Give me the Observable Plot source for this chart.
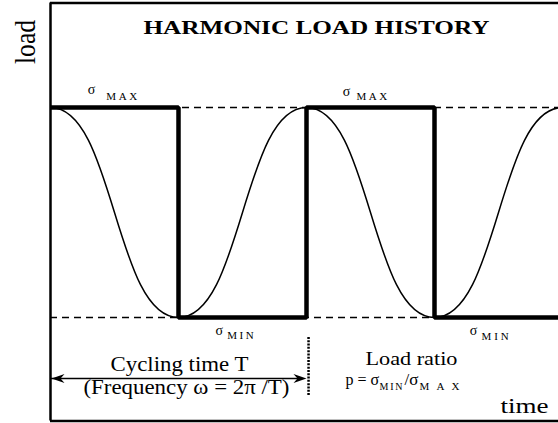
<!DOCTYPE html>
<html><head><meta charset="utf-8">
<script src="https://cdn.jsdelivr.net/npm/d3@7"></script>
<script src="https://cdn.jsdelivr.net/npm/@observablehq/plot@0.6"></script>
<style>html,body{margin:0;padding:0;background:#fff;} svg{display:block;} svg text{font-family:"Liberation Serif","Times New Roman",serif !important;}</style>
</head><body><div id="chart"></div>
<script>
// ---- data (time in units of the period T, load normalised: σmax = 1, σmin = -1)
const harmonicTimes = [0, 0.5, 1, 1.5, 2];
const harmonicLoads = [1, -1, 1, -1, 1];
const squareTimes = [0, 0.5, 1, 1.5, 2];
const squareLoads = [1, -1, 1, -1, -1];
const levelLoads = [1, -1];
const cycleSpan = [0, 1];

const titleText = "HARMONIC LOAD HISTORY";
const yLabel = "load";
const xLabel = "time";
const sigma = "σ";
const maxSub = "MAX";
const minSub = "MIN";
const cycleText = "Cycling time T";
const freqText = "(Frequency ω = 2π /T)";
const ratioText = "Load ratio";
const ratioLead = "p = σ";
const ratioMid = "/σ";

const harmonic = harmonicTimes.map((t, i) => ({t, load: harmonicLoads[i]}));
const square = squareTimes.map((t, i) => ({t, load: squareLoads[i]}));

const xMax = 508 / 256;
const font = "Liberation Serif";
const fits = [];
function label(text, x, y, opts, fit) {
  fits.push(fit);
  return Plot.text([text], {x, y, text: d => d, fill: "black", fontFamily: font, lineAnchor: "bottom", ...opts});
}

const arrowHead = {draw(ctx) { ctx.moveTo(0, 0); ctx.lineTo(-13, -4.5); ctx.lineTo(-9, 0); ctx.lineTo(-13, 4.5); ctx.closePath(); }};
const arrowY = -1.581;

const chart = Plot.plot({
  width: 558, height: 423,
  marginLeft: 50, marginRight: 0, marginTop: 0, marginBottom: 0,
  x: {domain: [0, xMax], axis: null},
  y: {domain: [-2.0095, 2.019], axis: null},
  style: {background: "white"},
  marks: [
    Plot.ruleY(levelLoads, {x1: 0, x2: xMax, stroke: "black", strokeWidth: 1.5, strokeDasharray: "7,5"}),
    Plot.line(harmonic, {x: "t", y: "load", curve: "bump-x", stroke: "black", strokeWidth: 1.5, clip: true}),
    Plot.line(square, {x: "t", y: "load", curve: "step-after", stroke: "black", strokeWidth: 4.5, strokeLinejoin: "miter", strokeLinecap: "butt", clip: true}),
    // frame
    Plot.ruleX([0], {y1: -1.986, y2: 1.995, stroke: "black", strokeWidth: 2.5}),
    Plot.ruleY([1.995, -1.986], {x1: 0, x2: xMax, stroke: "black", strokeWidth: 2.5}),
    // cycle arrow
    Plot.ruleY([arrowY], {x1: cycleSpan[0], x2: cycleSpan[1] - 0.02, stroke: "black", strokeWidth: 1.5}),
    Plot.dot([cycleSpan[1]], {x: d => d, y: arrowY, symbol: arrowHead, fill: "black", stroke: "none"}),
    Plot.dot([cycleSpan[0]], {x: d => d + 0.004, y: arrowY, symbol: arrowHead, rotate: 180, fill: "black", stroke: "none"}),
    Plot.ruleX([1.008], {y1: -1.19, y2: -1.743, stroke: "black", strokeWidth: 2.5, strokeDasharray: "2,1.3"}),
    // texts
    label(titleText, 1.039, 1.701, {fontSize: 19, fontWeight: "bold", textAnchor: "middle"}, [346, "spacingAndGlyphs"]),
    label(yLabel, -0.0586, 1.624, {fontSize: 30, rotate: -90, textAnchor: "middle"}, [44, "spacingAndGlyphs"]),
    label(sigma, 0.1457, 1.124, {fontSize: 14, textAnchor: "start"}, null),
    label(maxSub, 0.2176, 1.076, {fontSize: 11, textAnchor: "start"}, [31, "spacing"]),
    label(sigma, 1.1418, 1.114, {fontSize: 14, textAnchor: "start"}, null),
    label(maxSub, 1.1953, 1.067, {fontSize: 11, textAnchor: "start"}, [30.7, "spacing"]),
    label(sigma, 0.6445, -1.1667, {fontSize: 14, textAnchor: "start"}, null),
    label(minSub, 0.6902, -1.2095, {fontSize: 11, textAnchor: "start"}, [26.6, "spacing"]),
    label(sigma, 1.6379, -1.1714, {fontSize: 14, textAnchor: "start"}, null),
    label(minSub, 1.6836, -1.219, {fontSize: 11, textAnchor: "start"}, [27.3, "spacing"]),
    label(cycleText, 0.5039, -1.514, {fontSize: 20, textAnchor: "middle"}, [138, "spacingAndGlyphs"]),
    label(freqText, 0.531, -1.724, {fontSize: 20, textAnchor: "middle"}, [206, "spacingAndGlyphs"]),
    label(ratioText, 1.410, -1.457, {fontSize: 19, textAnchor: "middle"}, [92, "spacingAndGlyphs"]),
    label(ratioLead, 1.1523, -1.6476, {fontSize: 16, textAnchor: "start"}, null),
    label(minSub, 1.2852, -1.695, {fontSize: 10, textAnchor: "start"}, [23, "spacing"]),
    label(ratioMid, 1.3828, -1.6476, {fontSize: 17, textAnchor: "start"}, null),
    label(maxSub, 1.4414, -1.695, {fontSize: 11, textAnchor: "start"}, [40, "spacing"]),
    label(xLabel, 1.8516, -1.914, {fontSize: 20, textAnchor: "middle"}, [48, "spacingAndGlyphs"])
  ]
});
document.getElementById("chart").appendChild(chart);
chart.querySelectorAll("text").forEach((el, i) => {
  const fit = fits[i];
  if (fit) { el.setAttribute("textLength", fit[0]); el.setAttribute("lengthAdjust", fit[1]); }
});
</script>
</body></html>
